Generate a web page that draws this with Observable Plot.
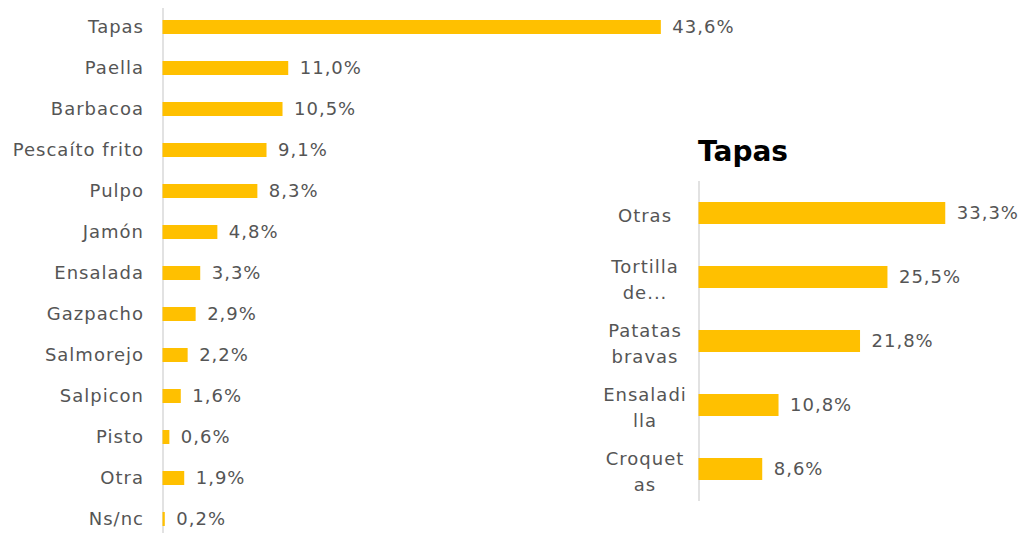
<!DOCTYPE html>
<html>
<head>
<meta charset="utf-8">
<script src="https://cdn.jsdelivr.net/npm/d3@7"></script>
<script src="https://cdn.jsdelivr.net/npm/@observablehq/plot@0.6"></script>
<style>
  html, body { margin: 0; padding: 0; background: #fff; }
  #wrap { position: relative; width: 1026px; height: 533px; overflow: hidden; }
  #left { position: absolute; left: 0; top: 0; }
  #right { position: absolute; left: 580px; top: 170px; }
  #title { position: absolute; left: 698px; top: 138px; font-family: "DejaVu Sans", Verdana, sans-serif; font-weight: bold; font-size: 28px; line-height: 1; color: #000; }
</style>
</head>
<body>
<div id="wrap">
  <div id="left"></div>
  <div id="title"></div>
  <div id="right"></div>
</div>
<script>
const leftCategories = ["Tapas", "Paella", "Barbacoa", "Pescaíto frito", "Pulpo", "Jamón", "Ensalada", "Gazpacho", "Salmorejo", "Salpicon", "Pisto", "Otra", "Ns/nc"];
const leftValues = [43.6, 11.0, 10.5, 9.1, 8.3, 4.8, 3.3, 2.9, 2.2, 1.6, 0.6, 1.9, 0.2];

const rightTitle = "Tapas";
const rightCategories = ["Otras", "Tortilla\nde...", "Patatas\nbravas", "Ensaladi\nlla", "Croquet\nas"];
const rightValues = [33.3, 25.5, 21.8, 10.8, 8.6];

const barColor = "#FFC000";
const textColor = "#555555";
const axisColor = "#d9d9d9";

const fmt = v => v.toFixed(1).replace(".", ",") + "%";

const leftData = leftCategories.map((name, i) => ({name, value: leftValues[i]}));
const rightData = rightCategories.map((name, i) => ({name, value: rightValues[i]}));

const baseStyle = {
  fontFamily: "'DejaVu Sans', Verdana, sans-serif",
  fontSize: "18px",
  color: textColor,
  background: "transparent",
  letterSpacing: "1px"
};

const left = Plot.plot({
  width: 780,
  height: 533,
  marginLeft: 162.5,
  marginTop: 8,
  marginBottom: 0,
  marginRight: 0,
  style: baseStyle,
  x: {domain: [0, 54], range: [162.5, 162.5 + 54 * 11.43], axis: null},
  y: {domain: leftCategories, range: [6.5, 539.5], paddingInner: 0.66, paddingOuter: 0.33, axis: null},
  marks: [
    Plot.ruleX([0], {stroke: axisColor, strokeWidth: 1.5}),
    Plot.barX(leftData, {x: "value", y: "name", fill: barColor}),
    Plot.text(leftData, {x: "value", y: "name", text: d => fmt(d.value), dx: 11, textAnchor: "start", fill: textColor}),
    Plot.text(leftData, {y: "name", text: "name", frameAnchor: "left", dx: -19, textAnchor: "end", fill: textColor})
  ]
});
document.getElementById("left").appendChild(left);

document.getElementById("title").textContent = rightTitle;

const right = Plot.plot({
  width: 446,
  height: 331,
  marginLeft: 118.5,
  marginTop: 11,
  marginBottom: 0,
  marginRight: 0,
  style: baseStyle,
  x: {domain: [0, 44], range: [118.5, 118.5 + 44 * 7.41], axis: null},
  y: {domain: rightCategories, paddingInner: 0.656, paddingOuter: 0.328, axis: null},
  marks: [
    Plot.ruleX([0], {stroke: axisColor, strokeWidth: 1.5}),
    Plot.barX(rightData, {x: "value", y: "name", fill: barColor}),
    Plot.text(rightData, {x: "value", y: "name", text: d => fmt(d.value), dx: 11, textAnchor: "start", fill: textColor}),
    Plot.text(rightData, {y: "name", text: "name", frameAnchor: "left", dx: -54, textAnchor: "middle", lineHeight: 1.45, lineAnchor: "middle", fill: textColor})
  ]
});
document.getElementById("right").appendChild(right);
</script>
</body>
</html>
